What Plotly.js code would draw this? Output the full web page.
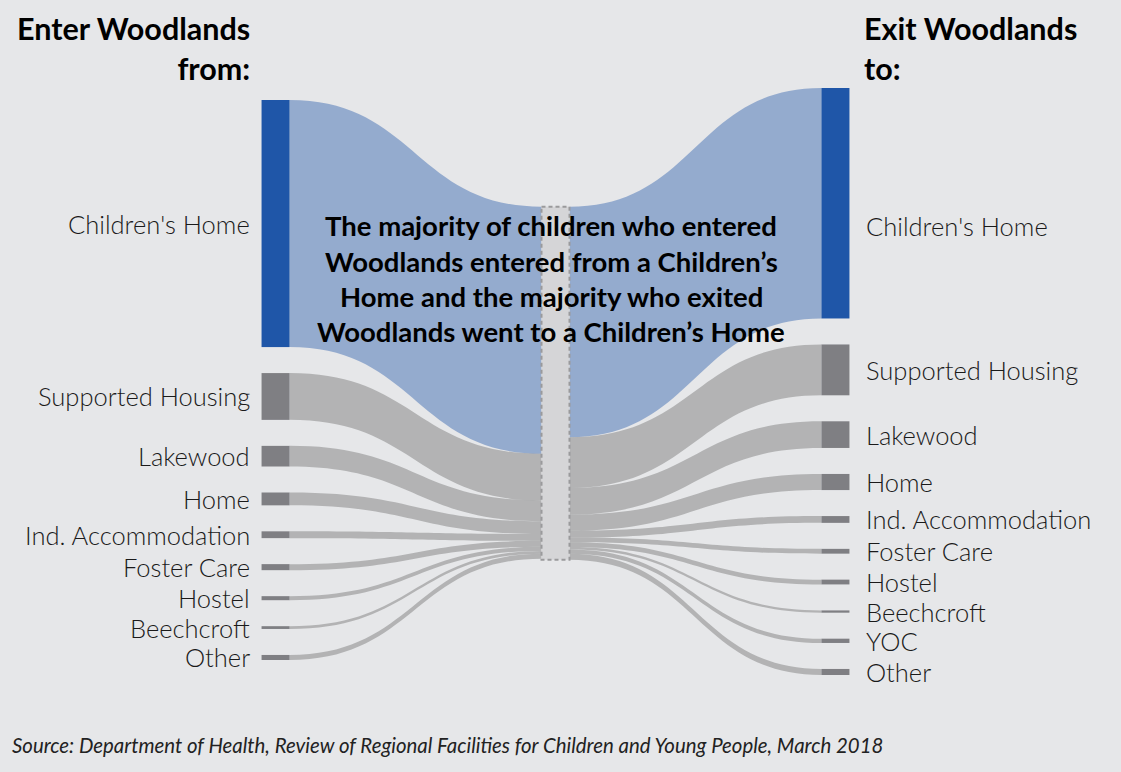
<!DOCTYPE html>
<html>
<head>
<meta charset="utf-8">
<script src="https://cdn.plot.ly/plotly-3.0.1.min.js"></script>
<style>html,body{margin:0;padding:0;background:#e6e7e9;}</style>
</head>
<body>
<div id="chart" style="width:1121px;height:772px;"></div>
<script>
// ---------- data ----------
const sourceLabels = ["Children's Home", "Supported Housing", "Lakewood", "Home", "Ind. Accommodation", "Foster Care", "Hostel", "Beechcroft", "Other"];
const sourceValues = [98.2, 18.6, 8.2, 5.1, 2.7, 2.4, 1.6, 1.1, 2.0];
const hubLabel = "Woodlands";
const destLabels = ["Children's Home", "Supported Housing", "Lakewood", "Home", "Ind. Accommodation", "Foster Care", "Hostel", "Beechcroft", "YOC", "Other"];
const destValues = [91.6, 20.2, 10.6, 6.4, 2.7, 1.9, 1.9, 0.9, 1.7, 2.4];
const titleLeft = "Enter Woodlands<br>from:";
const titleRight = "Exit Woodlands<br>to:";
const noteLines = ["The majority of children who entered", "Woodlands entered from a Children’s", "Home and the majority who exited", "Woodlands went to a Children’s Home"];
const sourceText = "Source: Department of Health, Review of Regional Facilities for Children and Young People, March 2018";

// ---------- layout constants ----------
const W = 1121, H = 772;
const dom = {x0: 275.5, x1: 835.5, y0: 88, y1: 675};
const pad = 26, thick = 28;
const colTop = {left: 12, hub: 118.7, right: 0};
const Hd = dom.y1 - dom.y0;
const BLUE = '#1f56a8', GREY = '#7f7f83', HUB = '#d5d5d7';
const FONT = 'Lato, "Open Sans", sans-serif';

const sum = a => a.reduce((s, v) => s + v, 0);
const hubValue = Math.max(sum(sourceValues), sum(destValues));
const ky = Math.min(
  (Hd - (sourceValues.length - 1) * pad) / sum(sourceValues),
  Hd / hubValue,
  (Hd - (destValues.length - 1) * pad) / sum(destValues)
);
function stackCenters(vals, top) {
  let y = top;
  return vals.map(v => { const h = v * ky; const c = y + h / 2; y += h + pad; return c; });
}
const leftC = stackCenters(sourceValues, colTop.left);
const hubC = colTop.hub + hubValue * ky / 2;
const rightC = stackCenters(destValues, colTop.right);

const nL = sourceLabels.length, hubIdx = nL;
const nodeX = [], nodeY = [], nodeColor = [];
sourceLabels.forEach((l, i) => { nodeX.push(0.0001); nodeY.push(leftC[i] / Hd); nodeColor.push(i === 0 ? BLUE : GREY); });
nodeX.push(0.5); nodeY.push(hubC / Hd); nodeColor.push(HUB);
destLabels.forEach((l, j) => { nodeX.push(0.9999); nodeY.push(rightC[j] / Hd); nodeColor.push(j === 0 ? BLUE : GREY); });

const src = [], tgt = [], val = [], lcol = [];
const LBLUE = 'rgba(31,86,168,0.41)', LGREY = 'rgba(128,128,128,0.5)';
sourceValues.forEach((v, i) => { src.push(i); tgt.push(hubIdx); val.push(v); lcol.push(i === 0 ? LBLUE : LGREY); });
destValues.forEach((v, j) => { src.push(hubIdx); tgt.push(hubIdx + 1 + j); val.push(v); lcol.push(j === 0 ? LBLUE : LGREY); });

const trace = {
  type: 'sankey',
  arrangement: 'fixed',
  orientation: 'h',
  domain: {x: [dom.x0 / W, dom.x1 / W], y: [1 - dom.y1 / H, 1 - dom.y0 / H]},
  hoverinfo: 'none',
  node: {
    label: nodeX.map(() => ''),
    x: nodeX, y: nodeY,
    pad: pad, thickness: thick,
    color: nodeColor,
    line: {width: 0, color: 'rgba(0,0,0,0)'},
    hoverinfo: 'none'
  },
  link: {source: src, target: tgt, value: val, color: lcol, hoverinfo: 'none'}
};

const py = px => 1 - px / H;
const labelFont = {family: FONT, size: 25.5, color: '#1a1a1a', weight: 300};
const labelShiftRight = destLabels.map((l, j) => j === 0 ? 23 : 0);
const annotations = [];
sourceLabels.forEach((l, i) => annotations.push({
  text: l, xref: 'paper', yref: 'paper', x: 252 / W, y: py(dom.y0 + leftC[i]),
  xanchor: 'right', yanchor: 'middle', showarrow: false, font: labelFont
}));
destLabels.forEach((l, j) => annotations.push({
  text: l, xref: 'paper', yref: 'paper', x: 864 / W, y: py(dom.y0 + rightC[j] + labelShiftRight[j]),
  xanchor: 'left', yanchor: 'middle', showarrow: false, font: labelFont
}));
annotations.push({text: titleLeft, xref: 'paper', yref: 'paper', x: 252 / W, y: py(8), xanchor: 'right', yanchor: 'top', align: 'right', showarrow: false,
  font: {family: FONT, size: 30.5, color: '#000', weight: 700}});
annotations.push({text: titleRight, xref: 'paper', yref: 'paper', x: 862 / W, y: py(8), xanchor: 'left', yanchor: 'top', align: 'left', showarrow: false,
  font: {family: FONT, size: 30.5, color: '#000', weight: 700}});
noteLines.forEach((t, k) => annotations.push({text: t, xref: 'paper', yref: 'paper', x: 551 / W, y: py(226 + k * 35), xanchor: 'center', yanchor: 'middle', showarrow: false,
  font: {family: FONT, size: 27.5, color: '#000', weight: 700}}));
annotations.push({text: sourceText, xref: 'paper', yref: 'paper', x: 10 / W, y: py(745), xanchor: 'left', yanchor: 'middle', showarrow: false,
  font: {family: FONT, size: 20.4, color: '#222', style: 'italic'}});

const layout = {
  width: W, height: H,
  margin: {l: 0, r: 0, t: 0, b: 0},
  paper_bgcolor: '#e6e7e9',
  plot_bgcolor: '#e6e7e9',
  font: {family: FONT},
  annotations: annotations,
  showlegend: false
};

Plotly.newPlot('chart', [trace], layout, {displayModeBar: false}).then(gd => {
  gd.querySelectorAll('.node-rect').forEach(r => {
    const d = r.__data__;
    const isHub = d && d.node ? d.node.pointNumber === hubIdx
      : /213,\s*213,\s*215/.test(r.style.fill || r.getAttribute('fill') || '');
    if (isHub) {
      r.style.stroke = '#9a9a9c';
      r.style.strokeWidth = '2px';
      r.style.strokeOpacity = '1';
      r.style.strokeDasharray = '4px,3px';
    } else {
      r.style.stroke = 'none';
      r.style.strokeWidth = '0px';
    }
  });
});
</script>
</body>
</html>
